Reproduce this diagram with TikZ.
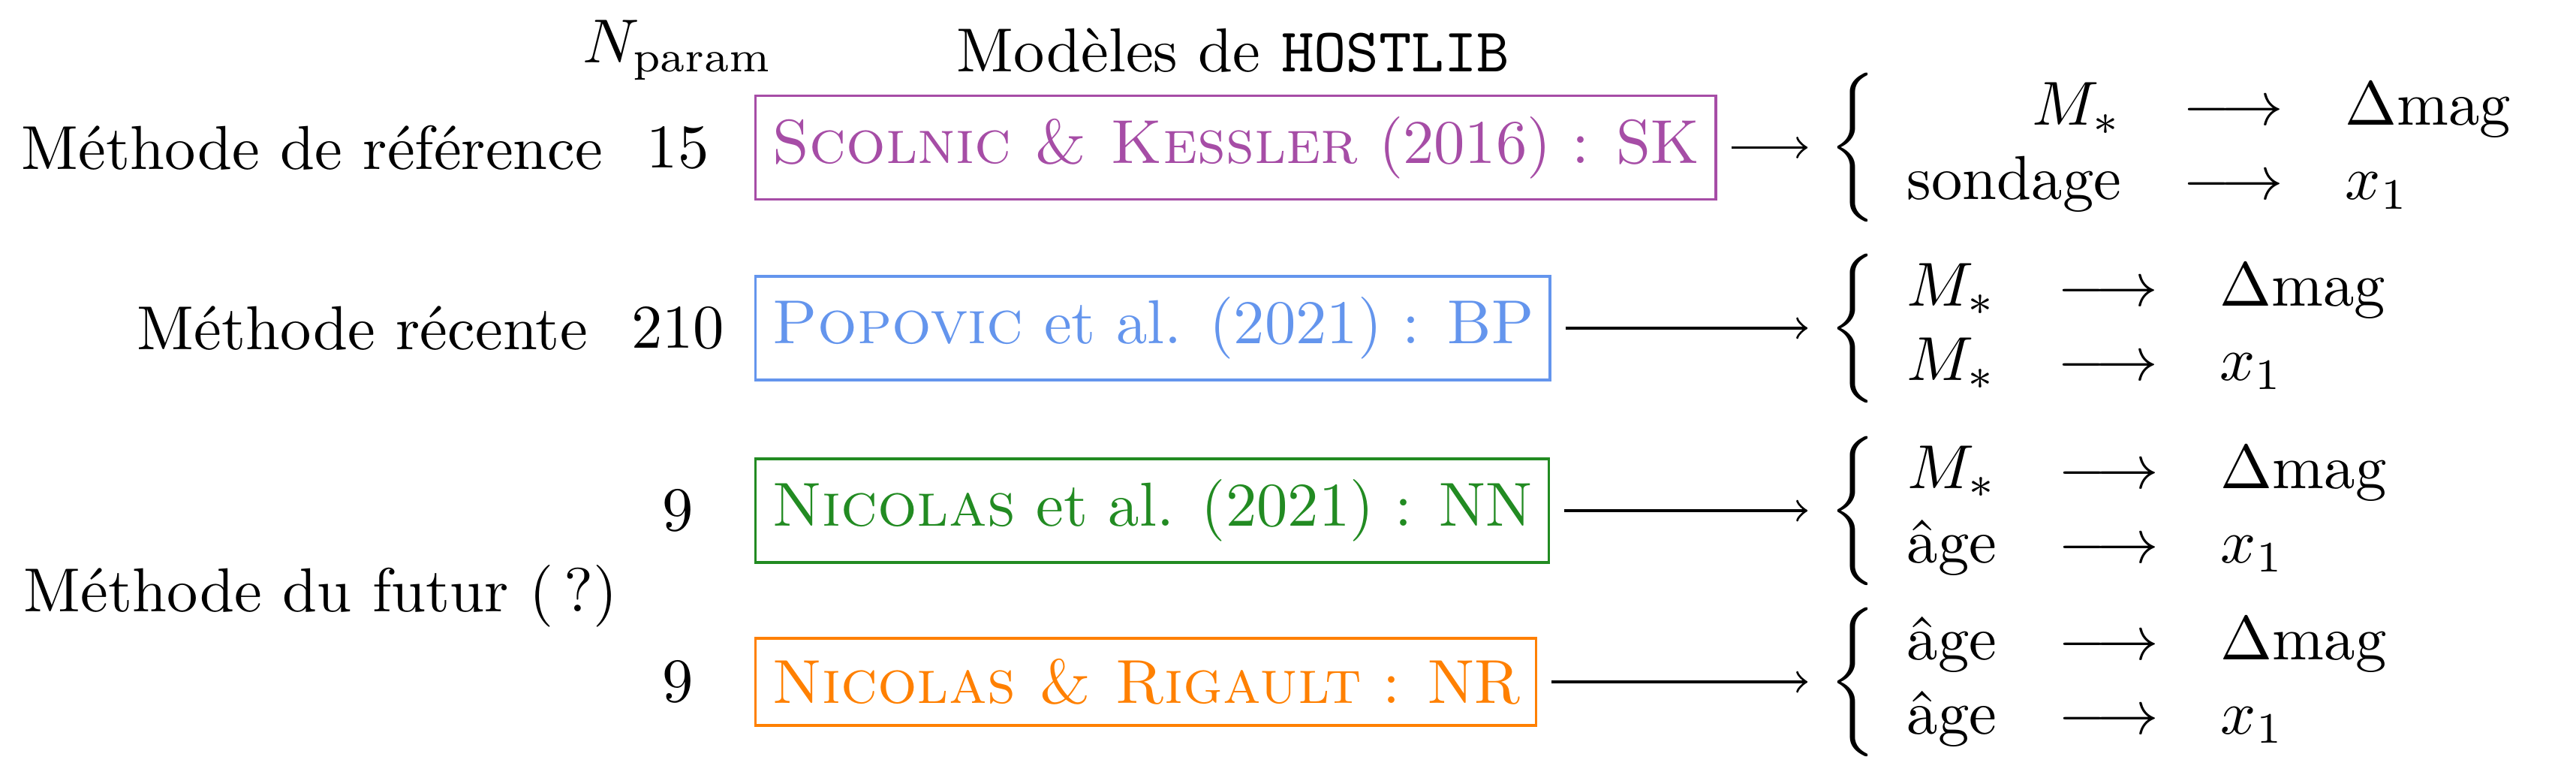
\documentclass[tikz,border=0pt]{standalone}
\usepackage{amsmath}
\usepackage{fontspec}
\usepackage{tikz}
\usetikzlibrary{arrows}
\definecolor{skcol}{RGB}{166,77,166}
\definecolor{bpcol}{RGB}{100,149,237}
\definecolor{nncol}{RGB}{34,139,34}
\definecolor{nrcol}{RGB}{255,128,0}
\newcommand{\dmag}{\Delta\mathrm{mag}}
\newcommand{\Ms}{M_*}
\newcommand{\fl}{\longrightarrow}

\begin{document}
\begin{tikzpicture}[modele/.style={draw=#1, text=#1, anchor=west, inner xsep=2.6pt},
                    fleche/.style={->, shorten <=2.3pt}]
         \useasboundingbox (0, 0) rectangle (14.585, -4.3985);
         \node (NP) at (3.838, -0.285) {$N_{\text{param}}$};
         \node (HL) at (6.982, -0.285) {Modèles de \texttt{HOSTLIB}};
         \node (N1) at (3.838, -0.835) {15};
         \node (N2) at (3.838, -1.857) {210};
         \node (N3) at (3.838, -2.890) {9};
         \node (N4) at (3.838, -3.859) {9};
         \node [anchor=east] (L1) at (N1.west) {Méthode de référence};
         \node [anchor=east] (L2) at (N2.west) {Méthode récente};
         \node [anchor=east] (L3) at (3.62, -3.375) {Méthode du futur (\,?)};
         \node [modele=skcol] (SK) at (4.271, -0.835) {\textsc{Scolnic \& Kessler} (2016) : SK};
         \node [modele=bpcol] (BP) at (4.271, -1.857) {\textsc{Popovic} et al. (2021) : BP};
         \node [modele=nncol] (NN) at (4.271, -2.890) {\textsc{Nicolas} et al. (2021) : NN};
         \node [modele=nrcol] (NR) at (4.271, -3.859) {\textsc{Nicolas \& Rigault} : NR};
         \node [anchor=west] (R1) at (10.234, -0.835) {$\left\{\begin{array}{rcl} \Ms & \fl & \dmag \\ \text{sondage} & \fl & x_1 \end{array}\right.$};
         \node [anchor=west] (R2) at (10.234, -1.857) {$\left\{\begin{array}{rcl} \Ms & \fl & \dmag \\ \Ms & \fl & x_1 \end{array}\right.$};
         \node [anchor=west] (R3) at (10.234, -2.890) {$\left\{\begin{array}{rcl} \Ms & \fl & \dmag \\ \text{âge} & \fl & x_1 \end{array}\right.$};
         \node [anchor=west] (R4) at (10.234, -3.859) {$\left\{\begin{array}{rcl} \text{âge} & \fl & \dmag \\ \text{âge} & \fl & x_1 \end{array}\right.$};
         \draw [fleche] (SK) -- (R1);
         \draw [fleche] (BP) -- (R2);
         \draw [fleche] (NN) -- (R3);
         \draw [fleche] (NR) -- (R4);
\end{tikzpicture}
\end{document}
